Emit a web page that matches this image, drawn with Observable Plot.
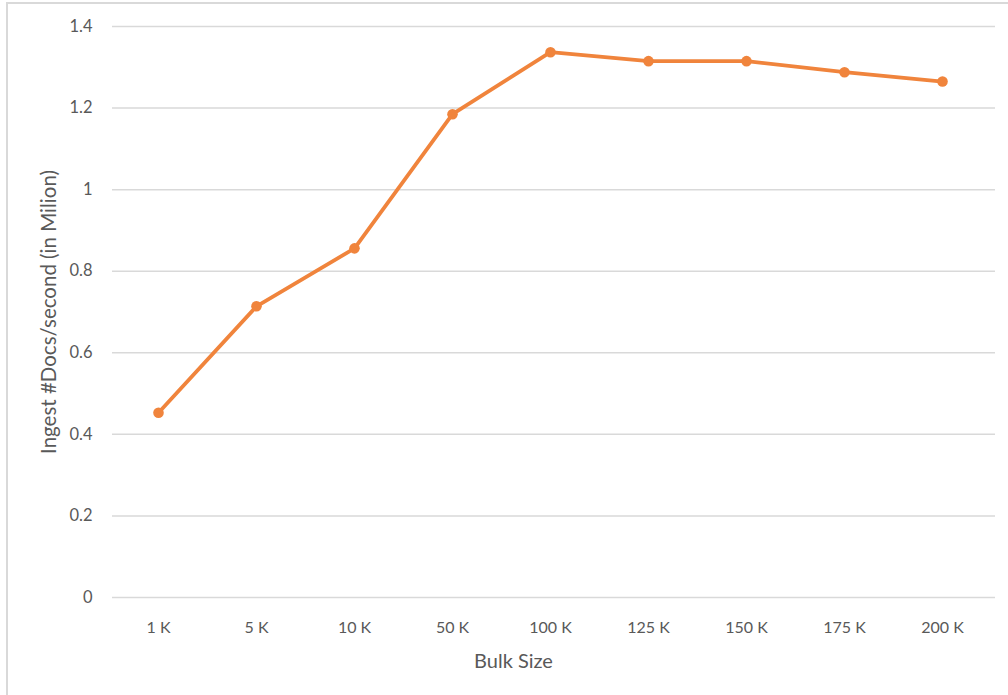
<!DOCTYPE html>
<html>
<head>
<meta charset="utf-8">
<script src="https://cdn.jsdelivr.net/npm/d3@7"></script>
<script src="https://cdn.jsdelivr.net/npm/@observablehq/plot@0.6"></script>
<style>
  html, body { margin: 0; padding: 0; background: #fff; }
  #frame {
    position: absolute; left: 0; top: 0; width: 1008px; height: 695px; overflow: hidden;
  }
  #border {
    position: absolute; left: 6px; top: 2px; width: 1100px; height: 800px;
    border-left: 2px solid #d9d9d9; border-top: 2px solid #d9d9d9;
  }
  #chart { position: absolute; left: 0; top: 0; }
</style>
</head>
<body>
<div id="frame">
  <div id="border"></div>
  <div id="chart"></div>
</div>
<script>
// Ingest throughput by bulk size
const bulkSizes = ["1 K", "5 K", "10 K", "50 K", "100 K", "125 K", "150 K", "175 K", "200 K"];
const docsPerSecond = [0.453, 0.714, 0.856, 1.185, 1.337, 1.315, 1.315, 1.288, 1.265];
const yTicks = [0, 0.2, 0.4, 0.6, 0.8, 1, 1.2, 1.4];

const rows = bulkSizes.map((size, i) => ({size, value: docsPerSecond[i]}));
const orange = "#F0843C";
const font = "Lato, 'Open Sans', sans-serif";

const chart = Plot.plot({
  width: 1008,
  height: 695,
  marginLeft: 109,
  marginRight: 17,
  marginTop: 26,
  marginBottom: 98,
  style: {fontFamily: font, fontSize: "16px", color: "#595959", background: "transparent"},
  x: {type: "band", domain: bulkSizes, padding: 0, label: null},
  y: {domain: [0, 1.4], label: null},
  marks: [
    Plot.gridY(yTicks, {stroke: "#d9d9d9", strokeOpacity: 1, strokeWidth: 1.5, insetLeft: 3, insetRight: -4}),
    Plot.axisY(yTicks, {tickSize: 0, tickPadding: 17, tickFormat: d => String(d), fontSize: 16.5, fill: "#595959", label: null}),
    Plot.axisX({tickSize: 0, tickPadding: 24, fontSize: 16, fill: "#595959", label: null}),
    Plot.line(rows, {x: "size", y: "value", stroke: orange, strokeWidth: 3.8, strokeLinejoin: "round"}),
    Plot.dot(rows, {x: "size", y: "value", r: 5.3, fill: orange}),
    Plot.text(["Bulk Size"], {frameAnchor: "bottom", textAnchor: "middle", dx: -37, dy: 70, fontSize: 20, fill: "#595959"}),
    Plot.text(["Ingest #Docs/second (in Milion)"], {frameAnchor: "left", textAnchor: "middle", dx: -60, rotate: -90, fontSize: 20.5, fill: "#595959"})
  ]
});
document.getElementById("chart").appendChild(chart);
</script>
</body>
</html>
